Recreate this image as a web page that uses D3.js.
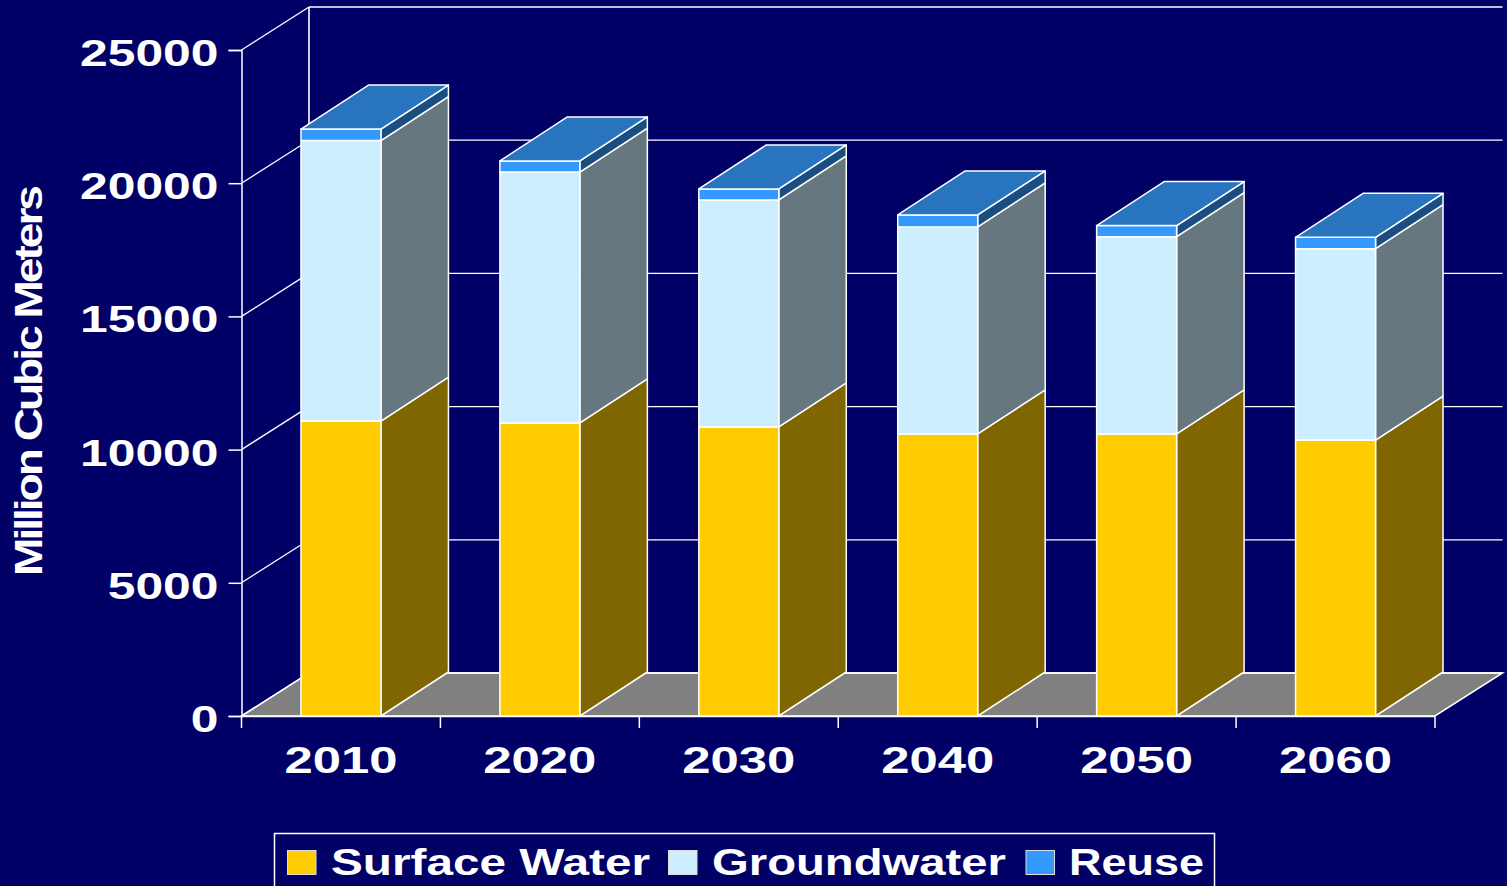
<!DOCTYPE html>
<html>
<head>
<meta charset="utf-8">
<script src="https://cdn.jsdelivr.net/npm/d3@7"></script>
<style>
  html, body { margin: 0; padding: 0; background: #000066; overflow: hidden; }
  text { font-family: "Liberation Sans", Arial, sans-serif; font-weight: bold; fill: #fff; }
</style>
</head>
<body>
<div id="chart"></div>
<script>
// values
var years = ["2010", "2020", "2030", "2040", "2050", "2060"];
var surfaceWater = [11070, 11000, 10850, 10590, 10590, 10360];
var groundwater = [10530, 9420, 8520, 7770, 7400, 7180];
var reuse = [430, 415, 413, 450, 420, 430];
var yTicks = [0, 5000, 10000, 15000, 20000, 25000];
var seriesNames = ["Surface Water", "Groundwater", "Reuse"];
var seriesValues = [surfaceWater, groundwater, reuse];

// front, top and side colours of each series
var frontColors = ["#ffcc00", "#cceeff", "#3399ff"];
var sideColors = ["#806600", "#667780", "#1a4d80"];
var topColor = "#2874bf";

var width = 1507, height = 886;
var plotLeft = 241.5, plotRight = 1435, plotBottom = 716, plotTop = 50;
// offset of the 3d depth
var depthX = 67.5, depthY = -43, barDepthY = -44;

var svg = d3.select("#chart")
    .append("svg")
    .attr("width", width)
    .attr("height", height)
    .style("display", "block");

var x = d3.scaleBand()
    .domain(years)
    .range([plotLeft, plotRight])
    .paddingInner(0.598)
    .paddingOuter(0.299);

var y = d3.scaleLinear()
    .domain([0, 25000])
    .range([plotBottom, plotTop]);

function poly(points) {
    return "M" + points.map(function (p) { return p[0] + "," + p[1]; }).join("L") + "Z";
}

// floor
svg.append("path")
    .attr("d", poly([[plotLeft, plotBottom], [plotLeft + depthX, plotBottom + depthY], [plotRight + depthX, plotBottom + depthY], [plotRight, plotBottom]]))
    .attr("fill", "#808080")
    .attr("stroke", "#fff")
    .attr("stroke-width", 1.5);

// grid on the back wall and the side wall
var grid = svg.append("g").attr("stroke", "#fff").attr("stroke-width", 1.3).attr("fill", "none");
grid.selectAll(".back")
    .data(yTicks)
    .enter()
    .append("line")
    .attr("x1", plotLeft + depthX)
    .attr("x2", plotRight + depthX)
    .attr("y1", function (d) { return y(d) + depthY; })
    .attr("y2", function (d) { return y(d) + depthY; });
grid.selectAll(".side")
    .data(yTicks)
    .enter()
    .append("line")
    .attr("x1", plotLeft)
    .attr("x2", plotLeft + depthX)
    .attr("y1", function (d) { return y(d); })
    .attr("y2", function (d) { return y(d) + depthY; });
grid.append("line")
    .attr("x1", plotLeft + depthX).attr("x2", plotLeft + depthX)
    .attr("y1", y(25000) + depthY).attr("y2", y(0) + depthY)
    .attr("stroke-width", 1.6);

// Add Y axis
var yAxis = svg.append("g")
    .attr("transform", "translate(" + plotLeft + ",0)")
    .call(d3.axisLeft(y).tickValues(yTicks).tickSize(13).tickPadding(10).tickFormat(d3.format("d")));
yAxis.select(".domain").attr("stroke", "#fff").attr("stroke-width", 1.5);
yAxis.selectAll("line").attr("stroke", "#fff").attr("stroke-width", 1.5);
yAxis.selectAll("text")
    .style("font-size", "37px")
    .attr("dy", "0.42em")
    .attr("textLength", function (d) { return String(d).length * 27.7; })
    .attr("lengthAdjust", "spacingAndGlyphs");

// Add X axis
var xAxis = svg.append("g")
    .attr("transform", "translate(0," + plotBottom + ")")
    .call(d3.axisBottom(x).tickSize(0).tickPadding(31));
xAxis.select(".domain").attr("stroke", "#fff").attr("stroke-width", 1.5);
xAxis.selectAll("text")
    .style("font-size", "37px")
    .attr("textLength", 113)
    .attr("lengthAdjust", "spacingAndGlyphs");
// ticks sit between the categories
svg.append("g")
    .selectAll("line")
    .data(d3.range(years.length + 1))
    .enter()
    .append("line")
    .attr("x1", function (i) { return plotLeft + i * x.step(); })
    .attr("x2", function (i) { return plotLeft + i * x.step(); })
    .attr("y1", plotBottom)
    .attr("y2", plotBottom + 12)
    .attr("stroke", "#fff")
    .attr("stroke-width", 1.5);

// Add the bars
years.forEach(function (year, i) {
    var g = svg.append("g").attr("stroke", "#fff").attr("stroke-width", 1.5).attr("stroke-linejoin", "round");
    var x0 = x(year), x1 = x(year) + x.bandwidth();
    var total = 0;
    seriesValues.forEach(function (values, s) {
        var y0 = y(total), y1 = y(total + values[i]);
        total += values[i];
        g.append("path")
            .attr("d", poly([[x1, y0], [x1 + depthX, y0 + barDepthY], [x1 + depthX, y1 + barDepthY], [x1, y1]]))
            .attr("fill", sideColors[s]);
        g.append("rect")
            .attr("x", x0)
            .attr("y", y1)
            .attr("width", x.bandwidth())
            .attr("height", y0 - y1)
            .attr("fill", frontColors[s]);
    });
    var yt = y(total);
    g.append("path")
        .attr("d", poly([[x0, yt], [x0 + depthX, yt + barDepthY], [x1 + depthX, yt + barDepthY], [x1, yt]]))
        .attr("fill", topColor);
});

// Y axis title, squeezed letters like the original
svg.append("text")
    .attr("transform", "translate(41.5,382) rotate(-90)")
    .attr("text-anchor", "middle")
    .attr("textLength", 388)
    .attr("lengthAdjust", "spacingAndGlyphs")
    .style("font-size", "38px")
    .style("letter-spacing", "-2.5px")
    .text("Million Cubic Meters");

// legend, runs off the bottom of the page
svg.append("rect")
    .attr("x", 274.5)
    .attr("y", 833.5)
    .attr("width", 940)
    .attr("height", 70)
    .attr("fill", "none")
    .attr("stroke", "#fff")
    .attr("stroke-width", 1.5);
var legendSwatch = [287.5, 668.5, 1026];
var legendText = [331, 712, 1069];
var legendLength = [319, 294, 135];
seriesNames.forEach(function (name, s) {
    svg.append("rect")
        .attr("x", legendSwatch[s])
        .attr("y", 850.5)
        .attr("width", 28.5)
        .attr("height", 24)
        .attr("fill", frontColors[s])
        .attr("stroke", "#ddd")
        .attr("stroke-width", 1);
    svg.append("text")
        .attr("x", legendText[s])
        .attr("y", 875)
        .attr("textLength", legendLength[s])
        .attr("lengthAdjust", "spacingAndGlyphs")
        .style("font-size", "36px")
        .text(name);
});
</script>
</body>
</html>
